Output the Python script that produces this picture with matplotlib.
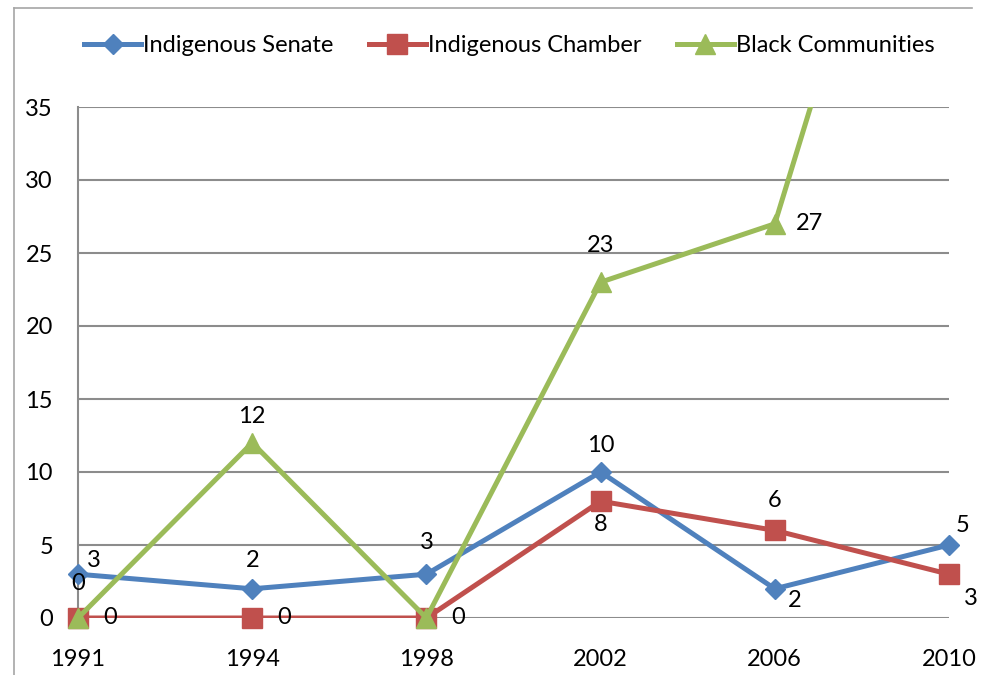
import matplotlib
matplotlib.use("Agg")
import matplotlib.pyplot as plt
from matplotlib.lines import Line2D

plt.rcParams['font.family'] = ['Lato', 'DejaVu Sans']

years = ['1991', '1994', '1998', '2002', '2006', '2010']
senate = [3, 2, 3, 10, 2, 5]
chamber = [0, 0, 0, 8, 6, 3]
black = [0, 12, 0, 23, 27, 66]

# label offsets in pixels (dx, dy) for each point, None = no label
senate_off = [(16, 14), (0, 28), (0, 32), (0, 26), (20, -12), (14, 20)]
chamber_off = [(32, 0), (32, 0), (32, 0), (0, -23), (0, 30), (22, -24)]
black_off = [(0, 35), (0, 26), None, (0, 37), (35, 0), None]

blue = '#4F81BD'
red = '#C0504D'
green = '#9BBB59'
FS = 17

fig = plt.figure(figsize=(9.95, 6.75), dpi=100)
ax = fig.add_axes([78 / 995, 1 - 618 / 675, (949 - 78) / 995, (618 - 107) / 675])
ax.set_xlim(0, 5)
ax.set_ylim(0, 35)

x = list(range(len(years)))
styles = [('Indigenous Senate', senate, blue, 'D', 10, 3),
          ('Indigenous Chamber', chamber, red, 's', 14, 4),
          ('Black Communities', black, green, '^', 14, 5)]
handles = []
for name, vals, col, mk, ms, z in styles:
    # line stays inside the plot area, markers may overhang the edges
    ax.plot(x, vals, color=col, lw=3.6, zorder=z)
    inside = [(i, v) for i, v in zip(x, vals) if v <= 35]
    ax.plot([p[0] for p in inside], [p[1] for p in inside], ls='none', marker=mk,
            ms=ms, color=col, zorder=z, clip_on=False)
    handles.append(Line2D([], [], color=col, lw=3.6, marker=mk, ms=ms, label=name))

for vals, offs in [(senate, senate_off), (chamber, chamber_off), (black, black_off)]:
    for i, (v, off) in enumerate(zip(vals, offs)):
        if off is None:
            continue
        ax.annotate(str(v), (i, v), xytext=off, textcoords='offset pixels',
                    ha='center', va='center', fontsize=FS, zorder=6,
                    annotation_clip=False)

ax.set_yticks(range(0, 36, 5))
ax.set_xticks(x)
ax.set_xticklabels(years)
ax.tick_params(length=0, labelsize=FS, colors='black')
ax.tick_params(axis='y', pad=18)
ax.tick_params(axis='x', pad=22)
ax.yaxis.grid(True, color='#8C8C8C', lw=1.5)
ax.set_axisbelow(True)
for s in ['top', 'right', 'bottom']:
    ax.spines[s].set_visible(False)
ax.spines['left'].set_color('#8C8C8C')
ax.spines['left'].set_linewidth(1.5)

fig.legend(handles=handles, loc='center', bbox_to_anchor=(0.512, 0.932), ncol=3,
           frameon=False, fontsize=FS, handlelength=2.4, handletextpad=0.1,
           columnspacing=1.5)

# outer chart border
fig.add_artist(Line2D([14 / 995, 14 / 995], [0, 1 - 8 / 675], color='#A6A6A6', lw=1.2))
fig.add_artist(Line2D([14 / 995, 972 / 995], [1 - 8 / 675, 1 - 8 / 675], color='#A6A6A6', lw=1.2))

fig.savefig('out.png', dpi=100)
